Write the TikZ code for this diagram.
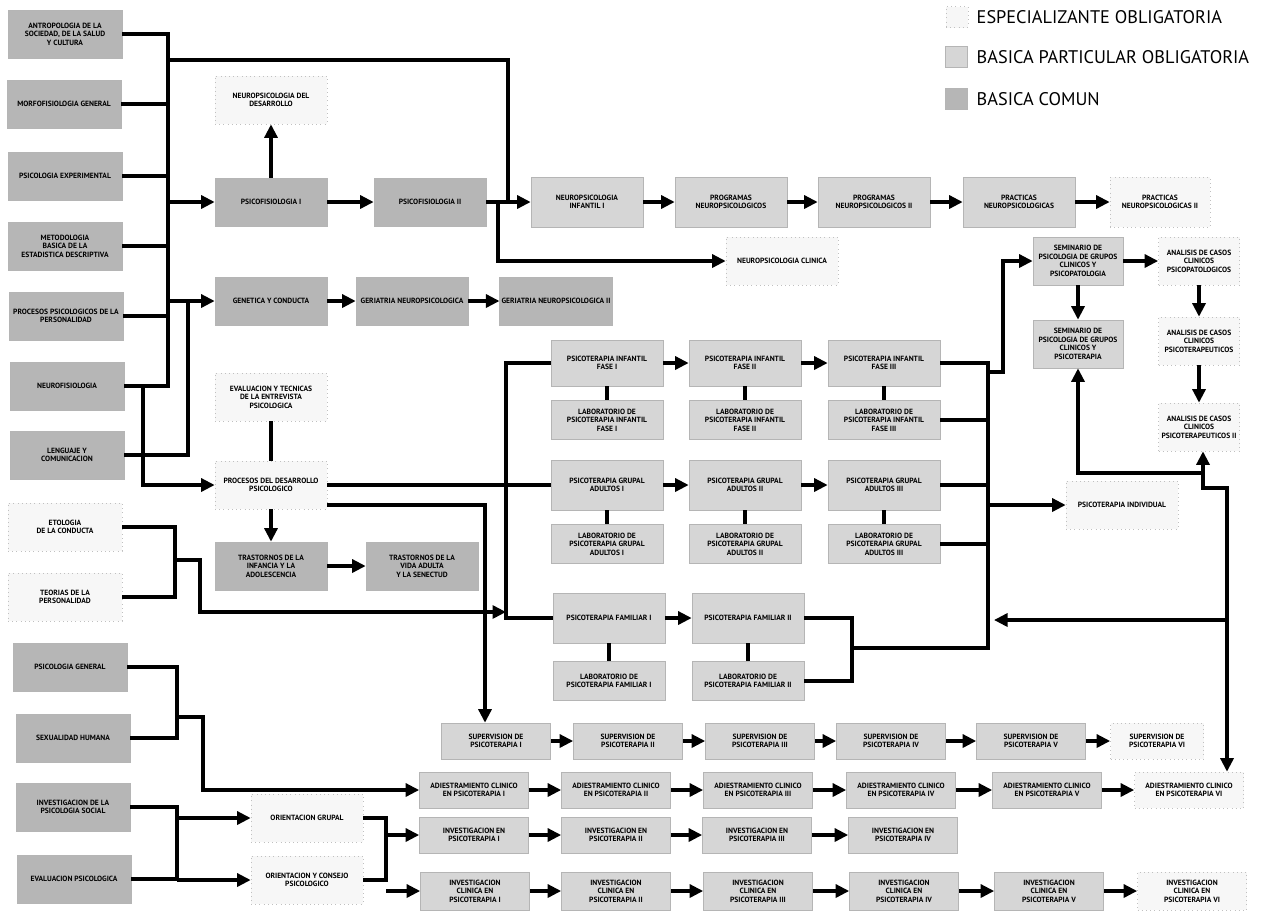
\documentclass[tikz,border=0pt]{standalone}
\usepackage{fontspec}
\setmainfont{PT Sans}
\usetikzlibrary{
    arrows.meta,
    positioning
}
\definecolor{ComunGray}{RGB}{182,182,182}
\definecolor{PartGray}{RGB}{214,214,214}
\definecolor{EspGray}{RGB}{247,247,247}
\definecolor{EdgeGray}{RGB}{150,150,150}
\newcommand{\subjfont}{\fontsize{4.3}{4.9}\selectfont\bfseries}
\tikzset{
  subj/.style    = {draw=EdgeGray!70, minimum width=2.24cm, minimum height=0.96cm,
                    inner sep=1pt, align=center, font=\subjfont},
  comun/.style   = {subj, fill=ComunGray},
  partic/.style  = {subj, fill=PartGray},
  espec/.style   = {subj, fill=EspGray, draw=EdgeGray!60, dotted},
  arr/.style     = {-{Triangle[length=2.7mm, width=2.6mm]}, line width=1.8pt},
  lin/.style     = {line width=1.8pt}
}

\begin{document}
\begin{tikzpicture}[
    x=0.02cm, y=-0.02cm,
    leftbox/.style={minimum width=2.28cm},
    labbox/.style={minimum height=0.78cm},
    rowbox/.style={minimum width=2.18cm, minimum height=0.72cm},
    legend/.style={font=\fontsize{10.4}{12}\selectfont, anchor=west, inner sep=0pt},
    key/.style={minimum width=0.44cm, minimum height=0.42cm}
]
\useasboundingbox (0,0) rectangle (1264,917);

% legend
\node[espec, key] (kE) at (957,17) {};
\node[partic, key] (kP) at (956,57) {};
\node[comun, key] (kC) at (956,99) {};
\node[legend, right=0.16cm of kE] {ESPECIALIZANTE OBLIGATORIA};
\node[legend, right=0.18cm of kP] {BASICA PARTICULAR OBLIGATORIA};
\node[legend, right=0.18cm of kC] {BASICA COMUN};

% left column
\node[comun, leftbox] (L1) at (65,34) {ANTROPOLOGIA DE LA\\SOCIEDAD, DE LA SALUD\\Y CULTURA};
\node[comun, leftbox] (L2) at (64,104) {MORFOFISIOLOGIA GENERAL};
\node[comun, leftbox] (L3) at (65,176) {PSICOLOGIA EXPERIMENTAL};
\node[comun, leftbox] (L4) at (65,246) {METODOLOGIA\\BASICA DE LA\\ESTADISTICA DESCRIPTIVA};
\node[comun, leftbox] (L5) at (66,316) {PROCESOS PSICOLOGICOS DE LA\\PERSONALIDAD};
\node[comun, leftbox] (L6) at (67,386) {NEUROFISIOLOGIA};
\node[comun, leftbox] (L7) at (67,455) {LENGUAJE Y\\COMUNICACION};
\node[espec, leftbox] (L8a) at (65,527) {ETOLOGIA\\DE LA CONDUCTA};
\node[espec, leftbox] (L8b) at (65,597) {TEORIAS DE LA\\PERSONALIDAD};
\node[comun, leftbox] (L9) at (70,667) {PSICOLOGIA GENERAL};
\node[comun, leftbox] (L10) at (73,738) {SEXUALIDAD HUMANA};
\node[comun, leftbox] (L11) at (73,807) {INVESTIGACION DE LA\\PSICOLOGIA SOCIAL};
\node[comun, leftbox] (L12) at (74,879) {EVALUACION PSICOLOGICA};

% second column
\node[espec] (B1) at (271,100) {NEUROPSICOLOGIA DEL\\DESARROLLO};
\node[comun] (B2) at (271,202) {PSICOFISIOLOGIA I};
\node[comun] (B3) at (430,202) {PSICOFISIOLOGIA II};
\node[comun] (E1) at (271,301) {GENETICA Y CONDUCTA};
\node[comun] (E2) at (412,301) {GERIATRIA NEUROPSICOLOGICA};
\node[comun] (E3) at (556,301) {GERIATRIA NEUROPSICOLOGICA II};
\node[espec] (B4) at (271,397) {EVALUACION Y TECNICAS\\DE LA ENTREVISTA\\PSICOLOGICA};
\node[espec] (B5) at (271,485) {PROCESOS DEL DESARROLLO\\PSICOLOGICO};
\node[comun] (B6) at (271,566) {TRASTORNOS DE LA\\INFANCIA Y LA\\ADOLESCENCIA};
\node[comun] (B7) at (422,566) {TRASTORNOS DE LA\\VIDA ADULTA\\Y LA SENECTUD};

% top row
\node[partic, minimum height=1.0cm] (C1) at (587,202) {NEUROPSICOLOGIA\\INFANTIL I};
\node[partic, minimum height=1.0cm] (C2) at (731,202) {PROGRAMAS\\NEUROPSICOLOGICOS};
\node[partic, minimum height=1.0cm] (C3) at (874,202) {PROGRAMAS\\NEUROPSICOLOGICOS II};
\node[partic, minimum height=1.0cm] (C4) at (1019,202) {PRACTICAS\\NEUROPSICOLOGICAS};
\node[espec, minimum height=1.0cm, minimum width=2.0cm] (C5) at (1160,202) {PRACTICAS\\NEUROPSICOLOGICAS II};
\node[espec] (D) at (782,261) {NEUROPSICOLOGIA CLINICA};

% middle block
\node[partic, minimum height=0.92cm] (F1) at (607,363) {PSICOTERAPIA INFANTIL\\FASE I};
\node[partic, minimum height=0.92cm] (F2) at (745,363) {PSICOTERAPIA INFANTIL\\FASE II};
\node[partic, minimum height=0.92cm] (F3) at (884,363) {PSICOTERAPIA INFANTIL\\FASE III};
\node[partic, labbox] (F1L) at (607,420) {LABORATORIO DE\\PSICOTERAPIA INFANTIL\\FASE I};
\node[partic, labbox] (F2L) at (745,420) {LABORATORIO DE\\PSICOTERAPIA INFANTIL\\FASE II};
\node[partic, labbox] (F3L) at (884,420) {LABORATORIO DE\\PSICOTERAPIA INFANTIL\\FASE III};
\node[partic, minimum height=1.0cm] (G1) at (607,485) {PSICOTERAPIA GRUPAL\\ADULTOS I};
\node[partic, minimum height=1.0cm] (G2) at (745,485) {PSICOTERAPIA GRUPAL\\ADULTOS II};
\node[partic, minimum height=1.0cm] (G3) at (884,485) {PSICOTERAPIA GRUPAL\\ADULTOS III};
\node[partic, labbox] (G1L) at (607,544) {LABORATORIO DE\\PSICOTERAPIA GRUPAL\\ADULTOS I};
\node[partic, labbox] (G2L) at (745,544) {LABORATORIO DE\\PSICOTERAPIA GRUPAL\\ADULTOS II};
\node[partic, labbox] (G3L) at (884,544) {LABORATORIO DE\\PSICOTERAPIA GRUPAL\\ADULTOS III};
\node[partic, minimum height=1.0cm] (H1) at (609,618) {PSICOTERAPIA FAMILIAR I};
\node[partic, minimum height=1.0cm] (H2) at (748,618) {PSICOTERAPIA FAMILIAR II};
\node[partic, labbox] (H1L) at (609,681) {LABORATORIO DE\\PSICOTERAPIA FAMILIAR I};
\node[partic, labbox] (H2L) at (748,681) {LABORATORIO DE\\PSICOTERAPIA FAMILIAR II};
\node[espec] (J) at (1122,505) {PSICOTERAPIA INDIVIDUAL};

% top right cluster
\node[partic, minimum width=1.8cm] (I1) at (1078,261) {SEMINARIO DE\\PSICOLOGIA DE GRUPOS\\CLINICOS Y\\PSICOPATOLOGIA};
\node[partic, minimum width=1.8cm] (I2) at (1078,344) {SEMINARIO DE\\PSICOLOGIA DE GRUPOS\\CLINICOS Y\\PSICOTERAPIA};
\node[espec, minimum width=1.62cm] (K1) at (1199,261) {ANALISIS DE CASOS\\CLINICOS\\PSICOPATOLOGICOS};
\node[espec, minimum width=1.62cm] (K2) at (1199,341) {ANALISIS DE CASOS\\CLINICOS\\PSICOTERAPEUTICOS};
\node[espec, minimum width=1.62cm] (K3) at (1199,427) {ANALISIS DE CASOS\\CLINICOS\\PSICOTERAPEUTICOS II};

% bottom rows
\node[partic, rowbox] (M1) at (496,741) {SUPERVISION DE\\PSICOTERAPIA I};
\node[partic, rowbox] (M2) at (628,741) {SUPERVISION DE\\PSICOTERAPIA II};
\node[partic, rowbox] (M3) at (760,741) {SUPERVISION DE\\PSICOTERAPIA III};
\node[partic, rowbox] (M4) at (891,741) {SUPERVISION DE\\PSICOTERAPIA IV};
\node[partic, rowbox] (M5) at (1031,741) {SUPERVISION DE\\PSICOTERAPIA V};
\node[espec, rowbox, minimum width=1.86cm] (M6) at (1157,741) {SUPERVISION DE\\PSICOTERAPIA VI};
\node[partic, rowbox] (N1) at (474,790) {ADIESTRAMIENTO CLINICO\\EN PSICOTERAPIA I};
\node[partic, rowbox] (N2) at (616,790) {ADIESTRAMIENTO CLINICO\\EN PSICOTERAPIA II};
\node[partic, rowbox] (N3) at (758,790) {ADIESTRAMIENTO CLINICO\\EN PSICOTERAPIA III};
\node[partic, rowbox] (N4) at (901,790) {ADIESTRAMIENTO CLINICO\\EN PSICOTERAPIA IV};
\node[partic, rowbox] (N5) at (1047,790) {ADIESTRAMIENTO CLINICO\\EN PSICOTERAPIA V};
\node[espec, rowbox] (N6) at (1189,790) {ADIESTRAMIENTO CLINICO\\EN PSICOTERAPIA VI};
\node[partic, rowbox] (P1) at (474,835) {INVESTIGACION EN\\PSICOTERAPIA I};
\node[partic, rowbox] (P2) at (616,835) {INVESTIGACION EN\\PSICOTERAPIA II};
\node[partic, rowbox] (P3) at (757,835) {INVESTIGACION EN\\PSICOTERAPIA III};
\node[partic, rowbox] (P4) at (903,835) {INVESTIGACION EN\\PSICOTERAPIA IV};
\node[partic, rowbox, minimum height=0.76cm] (Q1) at (475,891) {INVESTIGACION\\CLINICA EN\\PSICOTERAPIA I};
\node[partic, rowbox, minimum height=0.76cm] (Q2) at (616,891) {INVESTIGACION\\CLINICA EN\\PSICOTERAPIA II};
\node[partic, rowbox, minimum height=0.76cm] (Q3) at (758,891) {INVESTIGACION\\CLINICA EN\\PSICOTERAPIA III};
\node[partic, rowbox, minimum height=0.76cm] (Q4) at (904,891) {INVESTIGACION\\CLINICA EN\\PSICOTERAPIA IV};
\node[partic, rowbox, minimum height=0.76cm] (Q5) at (1049,891) {INVESTIGACION\\CLINICA EN\\PSICOTERAPIA V};
\node[espec, rowbox, minimum height=0.76cm] (Q6) at (1192,891) {INVESTIGACION\\CLINICA EN\\PSICOTERAPIA VI};
\node[espec] (O1) at (307,818) {ORIENTACION GRUPAL};
\node[espec] (O2) at (307,880) {ORIENTACION Y CONSEJO\\PSICOLOGICO};

% connectors, top left
\coordinate (busA) at (168,0);
\draw[lin] (L1.east) -| (busA |- L6.east) -- (L6.east);
\foreach \n in {L2,L3,L4,L5} \draw[lin] (\n.east) -- (\n.east -| busA);
\coordinate (topR) at (508,60);
\draw[lin] (busA |- topR) -- (topR) -- (topR |- C1.west);
\draw[arr] (busA |- B2.west) -- (B2.west);
\draw[arr] (busA |- E1.west) -- (E1.west);
\coordinate (busB) at (188,0);
\draw[lin] (L7.east) -| (busB |- E1.west);
\coordinate (busC) at (143,0);
\draw[arr] (busC |- L6.east) |- (B5.west);

\draw[arr] (B2) -- (B1);
\draw[arr] (B2) -- (B3);
\draw[arr] (B3) -- (C1);
\coordinate (dropD) at (498,0);
\draw[arr] (dropD |- B3.east) |- (D.west);
\foreach \a/\b in {C1/C2,C2/C3,C3/C4,C4/C5} \draw[arr] (\a) -- (\b);
\draw[arr] (E1) -- (E2);
\draw[arr] (E2) -- (E3);
\draw[lin] (B4) -- (B5);
\draw[arr] (B5) -- (B6);
\draw[arr] (B6) -- (B7);

% into the middle block
\draw[lin] (B5.east) -- (G1.west);
\coordinate (dropM) at (485,505);
\draw[arr] (B5.east |- dropM) -- (dropM) -- (dropM |- M1.north);
\coordinate (busM) at (506,0);
\draw[lin] (F1.west) -| (busM |- H1.west) -- (H1.west);
\coordinate (brA) at (175,0);
\draw[lin] (L8a.east) -| (brA |- L8b.east) -- (L8b.east);
\coordinate (midA) at (175,560);
\coordinate (knA) at (200,612);
\draw[arr] (midA) -| (knA) -- (busM |- knA);

\foreach \a/\b in {F1/F2,F2/F3,G1/G2,G2/G3,H1/H2} \draw[arr] (\a) -- (\b);
\foreach \a/\b in {F1/F1L,F2/F2L,F3/F3L,G1/G1L,G2/G2L,G3/G3L,H1/H1L,H2/H2L}
    \draw[lin] (\a) -- (\b);

% right side
\coordinate (busR) at (988,0);
\draw[lin] (F3.east) -| (busR |- G3L.east) -- (G3L.east);
\draw[lin] (F3L.east) -- (busR |- F3L.east);
\draw[lin] (G3.east) -- (busR |- G3.east);
\coordinate (knI) at (1003,372);
\draw[arr] (busR |- knI) -- (knI) |- (I1.west);
\draw[arr] (busR |- J.west) -- (J.west);
\coordinate (brH) at (852,648);
\draw[lin] (H2.east) -| (brH |- H2L.east) -- (H2L.east);
\draw[lin] (brH) -- (busR |- brH) -- (busR |- G3L.east);

\draw[arr] (I1) -- (K1);
\draw[arr] (I1) -- (I2);
\draw[arr] (K1) -- (K2);
\draw[arr] (K2) -- (K3);
\coordinate (knK) at (1203,473);
\draw[arr] (knK) -| (I2.south);
\draw[arr] (knK) -- (knK |- K3.south);
\coordinate (knN) at (1227,488);
\draw[arr] (knK) |- (knN) -- (knN |- N6.north);
\coordinate (arrL) at (994,620);
\draw[arr] (knN |- arrL) -- (arrL);

% bottom left
\coordinate (brB) at (177,0);
\draw[lin] (L9.east) -| (brB |- L10.east) -- (L10.east);
\coordinate (midB) at (177,717);
\coordinate (knB) at (203,790);
\draw[arr] (midB) -| (knB) -- (N1.west);
\draw[lin] (L11.east) -| (brB |- L12.east) -- (L12.east);
\draw[arr] (brB |- O1.west) -- (O1.west);
\draw[arr] (brB |- O2.west) -- (O2.west);
\coordinate (brO) at (386,0);
\draw[lin] (O1.east) -| (brO |- O2.east) -- (O2.east);
\draw[arr] (brO |- P1.west) -- (P1.west);
\draw[arr] (brO |- Q1.west) -- (Q1.west);

\foreach \a/\b in {M1/M2,M2/M3,M3/M4,M4/M5,M5/M6,N1/N2,N2/N3,N3/N4,N4/N5,N5/N6,
                   P1/P2,P2/P3,P3/P4,Q1/Q2,Q2/Q3,Q3/Q4,Q4/Q5,Q5/Q6}
    \draw[arr] (\a) -- (\b);
\end{tikzpicture}
\end{document}
